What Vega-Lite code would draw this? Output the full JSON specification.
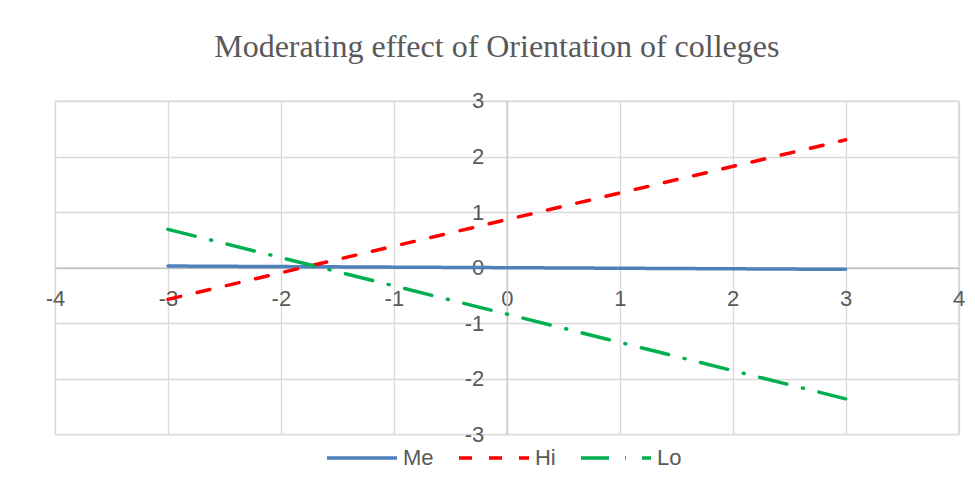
{
  "$schema": "https://vega.github.io/schema/vega-lite/v6.json",
  "width": 903.6,
  "height": 333.4,
  "autosize": {"type": "none"},
  "padding": {"left": 55, "top": 101, "right": 16, "bottom": 57},
  "background": "white",
  "title": {
    "text": "Moderating effect of Orientation of colleges",
    "font": "Liberation Serif",
    "fontSize": 32,
    "fontWeight": "normal",
    "color": "#595959",
    "anchor": "middle",
    "dx": -10,
    "offset": 26
  },
  "data": {
    "values": [
      {"series": "Me", "x": -3, "y": 0.03},
      {"series": "Me", "x": 3, "y": -0.03},
      {"series": "Hi", "x": -3, "y": -0.57},
      {"series": "Hi", "x": 3, "y": 2.3},
      {"series": "Lo", "x": -3, "y": 0.69},
      {"series": "Lo", "x": 3, "y": -2.36}
    ]
  },
  "mark": {"type": "line", "strokeWidth": 3.5, "strokeCap": "round"},
  "encoding": {
    "x": {
      "field": "x",
      "type": "quantitative",
      "scale": {"domain": [-4, 4], "nice": false, "zero": false},
      "axis": {
        "orient": "bottom",
        "offset": -166.7,
        "values": [-4, -3, -2, -1, 0, 1, 2, 3, 4],
        "labelExpr": "toString(datum.value)",
        "title": null,
        "grid": true,
        "gridColor": "#d9d9d9",
        "gridWidth": 1.3,
        "domain": true,
        "domainColor": "#bfbfbf",
        "domainWidth": 1.5,
        "ticks": false,
        "tickSize": 0,
        "labelPadding": 21,
        "labelFont": "Liberation Sans",
        "labelFontSize": 22,
        "labelColor": "#595959",
        "labelFlush": false,
        "labelOverlap": false
      }
    },
    "y": {
      "field": "y",
      "type": "quantitative",
      "scale": {"domain": [-3, 3], "nice": false, "zero": false},
      "axis": {
        "orient": "left",
        "offset": -451.8,
        "values": [-3, -2, -1, 0, 1, 2, 3],
        "labelExpr": "toString(datum.value)",
        "title": null,
        "grid": true,
        "gridColor": "#d9d9d9",
        "gridWidth": 1.3,
        "domain": true,
        "domainColor": "#c8c8c8",
        "domainWidth": 1.5,
        "ticks": false,
        "tickSize": 0,
        "labelPadding": 23,
        "labelFont": "Liberation Sans",
        "labelFontSize": 22,
        "labelColor": "#595959",
        "labelFlush": false,
        "labelOverlap": false
      }
    },
    "color": {
      "field": "series",
      "type": "nominal",
      "scale": {"domain": ["Me", "Hi", "Lo"], "range": ["#4f81bd", "#ff0000", "#00b050"]},
      "legend": {
        "title": null,
        "orient": "none",
        "direction": "horizontal",
        "legendX": 270,
        "legendY": 320,
        "symbolType": "stroke",
        "symbolSize": 4900,
        "symbolStrokeWidth": 3.5,
        "labelFont": "Liberation Sans",
        "labelFontSize": 22,
        "labelColor": "#595959",
        "labelOffset": 4,
        "columnPadding": 18,
        "padding": 0
      }
    },
    "strokeDash": {
      "field": "series",
      "type": "nominal",
      "scale": {"domain": ["Me", "Hi", "Lo"], "range": [[1, 0], [13, 17], [28, 16, 1, 16]]},
      "legend": {
        "title": null,
        "orient": "none",
        "direction": "horizontal",
        "legendX": 270,
        "legendY": 320,
        "symbolType": "stroke",
        "symbolSize": 4900,
        "symbolStrokeWidth": 3.5,
        "labelFont": "Liberation Sans",
        "labelFontSize": 22,
        "labelColor": "#595959",
        "labelOffset": 4,
        "columnPadding": 18,
        "padding": 0
      }
    }
  },
  "config": {
    "view": {"stroke": "#d9d9d9", "strokeWidth": 1.3}
  }
}
